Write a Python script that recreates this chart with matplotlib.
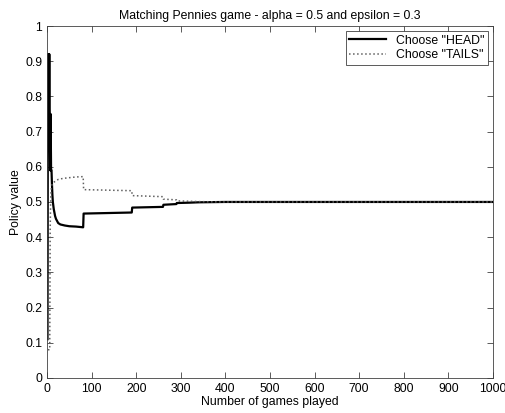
import numpy as np
from matplotlib import pyplot as plt

plt.rcParams['font.family'] = ['Liberation Sans', 'DejaVu Sans']
plt.rcParams['font.size'] = 8.8

# politique du joueur : probabilite de choisir HEAD / TAILS selon le nombre de parties
games_head = [1, 2, 3, 4, 5, 6, 7, 8, 9, 10, 11, 12, 13, 15, 18, 20, 25, 30, 40, 50, 65, 81,
              82, 190, 191, 260, 261, 290, 291, 320, 340, 400, 500, 1000]
head = [0.11, 0.92, 0.92, 0.75, 0.92, 0.75, 0.59, 0.75, 0.59, 0.59, 0.55, 0.52, 0.50, 0.48,
        0.46, 0.452, 0.44, 0.436, 0.433, 0.431, 0.43, 0.428,
        0.467, 0.47, 0.484, 0.486, 0.492, 0.494, 0.497, 0.498, 0.499, 0.5, 0.5, 0.5]

games_tails = [2, 6, 7, 8, 9, 10, 12, 15, 20, 25, 36, 50, 65, 81,
               82, 190, 191, 260, 261, 290, 291, 320, 340, 400, 500, 1000]
tails = [0.08, 0.08, 0.42, 0.5, 0.53, 0.545, 0.552, 0.556, 0.56, 0.564, 0.567,
         0.569, 0.571, 0.572,
         0.535, 0.532, 0.518, 0.515, 0.508, 0.506, 0.503, 0.502, 0.501, 0.5, 0.5, 0.5]

fig = plt.figure(figsize=(5.06, 4.13), dpi=100)
ax = fig.add_axes([0.093, 0.085, 0.881, 0.852])

ax.plot(games_head, head, '-', color='black', linewidth=1.6, label='Choose "HEAD"')
ax.plot(games_tails, tails, ':', color='#606060', linewidth=1.1, label='Choose "TAILS"')

ax.set_xlim(0, 1000)
ax.set_ylim(0, 1)
ax.set_xticks(np.arange(0, 1001, 100))
ax.set_yticks(np.arange(0, 1.01, 0.1))
ax.set_yticklabels(['0', '0.1', '0.2', '0.3', '0.4', '0.5', '0.6', '0.7', '0.8', '0.9', '1'])
ax.tick_params(direction='in', top=True, right=True, length=4, width=0.6, color='#404040')
for s in ax.spines.values():
    s.set_linewidth(0.6)
    s.set_color('#404040')

ax.set_xlabel('Number of games played', labelpad=1)
ax.set_ylabel('Policy value', labelpad=2)
ax.set_title('Matching Pennies game - alpha = 0.5 and epsilon = 0.3', fontsize=8.8, pad=5)

leg = ax.legend(loc='upper right', fancybox=False, framealpha=1, edgecolor='#404040',
                borderaxespad=0.4, handlelength=3.0, borderpad=0.3, labelspacing=0.2)
leg.get_frame().set_linewidth(0.6)

plt.savefig('out.png', dpi=100)
